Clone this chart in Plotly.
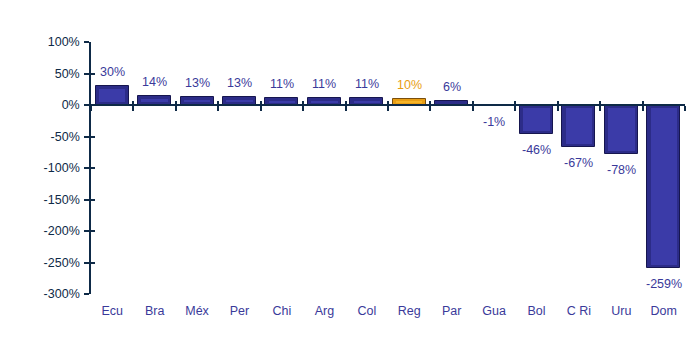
import plotly.graph_objects as go

categories = ["Ecu", "Bra", "Méx", "Per", "Chi", "Arg", "Col", "Reg", "Par", "Gua", "Bol", "C Ri", "Uru", "Dom"]
values = [30, 14, 13, 13, 11, 11, 11, 10, 6, -1, -46, -67, -78, -259]
highlight = "Reg"
y_ticks = [-300, -250, -200, -150, -100, -50, 0, 50, 100]
y_ticktext = [f"{v}%" for v in y_ticks]

BLUE = "#2C2C88"
BLUE_DARK = "#16164F"
BLUE_LIGHT = "#3B3BA8"
ORANGE = "#E89E14"
ORANGE_DARK = "#7A4E0C"
ORANGE_LIGHT = "#F6B428"
LABEL_BLUE = "#3A3A9A"
AXIS = "#0E2A47"
FONT = "Liberation Sans, Arial, sans-serif"

outer_colors = [ORANGE if c == highlight else BLUE for c in categories]
line_colors = [ORANGE_DARK if c == highlight else BLUE_DARK for c in categories]
inner_colors = [ORANGE_LIGHT if c == highlight else BLUE_LIGHT for c in categories]

# bevel inset in data units (~3px)
inset = 4.5
inner_base = []
inner_y = []
for v in values:
    s = 1 if v >= 0 else -1
    if abs(v) > 2 * inset:
        inner_base.append(s * inset)
        inner_y.append(v - 2 * s * inset)
    else:
        inner_base.append(0)
        inner_y.append(0)

fig = go.Figure()
fig.add_trace(go.Bar(
    x=categories, y=values, width=0.78,
    marker=dict(color=outer_colors, line=dict(color=line_colors, width=1)),
    hoverinfo="skip", showlegend=False,
))
fig.add_trace(go.Bar(
    x=categories, y=inner_y, base=inner_base, width=0.62,
    marker=dict(color=inner_colors, line=dict(width=0)),
    hoverinfo="skip", showlegend=False,
))
# invisible traces to carry the zero-line axes
fig.add_trace(go.Scatter(x=categories, y=[0] * len(categories), xaxis="x2", mode="markers",
                         marker=dict(opacity=0), hoverinfo="skip", showlegend=False))
fig.add_trace(go.Scatter(x=categories, y=[0] * len(categories), xaxis="x3", mode="markers",
                         marker=dict(opacity=0), hoverinfo="skip", showlegend=False))
fig.add_trace(go.Scatter(x=categories, y=values, yaxis="y2", mode="markers",
                         marker=dict(opacity=0), hoverinfo="skip", showlegend=False))

for c, v in zip(categories, values):
    fig.add_annotation(
        x=c, y=v, text=f"{v}%", showarrow=False,
        yanchor="bottom" if v >= 0 else "top",
        yshift=5 if v >= 0 else -7,
        font=dict(family=FONT, size=12.5, color=ORANGE if c == highlight else LABEL_BLUE),
    )

zero_pos = (0 - y_ticks[0]) / (y_ticks[-1] - y_ticks[0])

fig.update_layout(
    width=698, height=350,
    margin=dict(l=91, r=13, t=42, b=56),
    paper_bgcolor="white", plot_bgcolor="white",
    barmode="overlay", bargap=0,
    font=dict(family=FONT, size=12, color=AXIS),
    xaxis=dict(type="category", categoryorder="array", categoryarray=categories,
               range=[-0.5, len(categories) - 0.5],
               showline=False, ticks="", showgrid=False, zeroline=False,
               tickfont=dict(family=FONT, size=12.5, color=LABEL_BLUE), ticklabelstandoff=7),
    xaxis2=dict(type="category", categoryorder="array", categoryarray=categories,
                range=[-0.5, len(categories) - 0.5], overlaying="x", anchor="free",
                position=zero_pos, side="bottom", showline=True, linecolor=AXIS, linewidth=1.5,
                ticks="outside", tickson="boundaries", ticklen=5, tickcolor=AXIS, tickwidth=1.5,
                showticklabels=False, showgrid=False, zeroline=False),
    xaxis3=dict(type="category", categoryorder="array", categoryarray=categories,
                range=[-0.5, len(categories) - 0.5], overlaying="x", anchor="free",
                position=zero_pos, side="bottom", showline=False,
                ticks="inside", tickson="boundaries", ticklen=4, tickcolor=AXIS, tickwidth=1.5,
                showticklabels=False, showgrid=False, zeroline=False),
    yaxis=dict(range=[y_ticks[0], y_ticks[-1]], tickvals=y_ticks, ticktext=y_ticktext,
               showline=True, linecolor=AXIS, linewidth=1.5, ticks="outside", ticklen=5,
               tickcolor=AXIS, tickwidth=1.5, showgrid=False, zeroline=False,
               tickfont=dict(family=FONT, size=12.5, color=AXIS), ticklabelstandoff=2),
    yaxis2=dict(range=[y_ticks[0], y_ticks[-1]], tickvals=y_ticks, overlaying="y", side="left",
                showline=False, ticks="inside", ticklen=4, tickcolor=AXIS, tickwidth=1.5,
                showticklabels=False, showgrid=False, zeroline=False),
)

fig.write_html("out.html")
